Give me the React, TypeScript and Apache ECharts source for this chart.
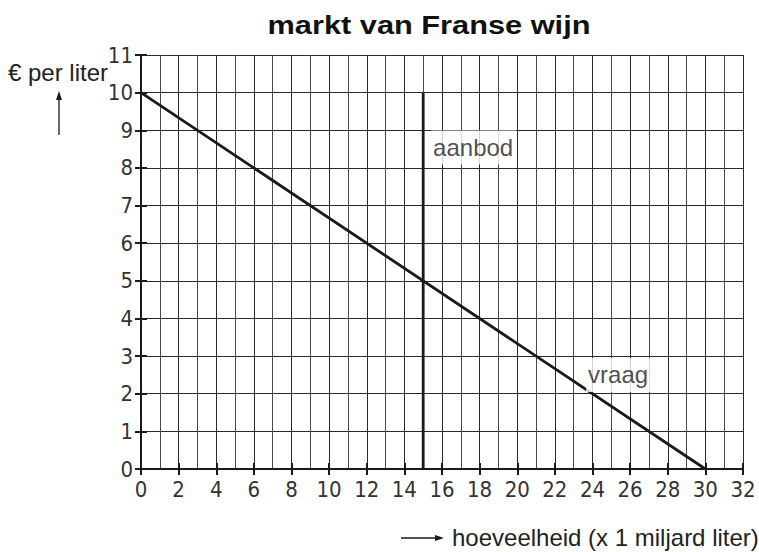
import React, { useEffect, useRef } from "react";
import * as echarts from "echarts";

const demandPoints: [number, number][] = [[0, 10], [30, 0]];
const supplyPoints: [number, number][] = [[15, 0], [15, 10]];
const xRange = [0, 32];
const yRange = [0, 11];
const annotations = [
  { name: "aanbod", value: [15.42, 8.54] },
  { name: "vraag", value: [23.66, 2.5] },
];
const titleText = "markt van Franse wijn";
const yAxisTitle = "€ per liter";
const xAxisTitle = "hoeveelheid (x 1 miljard liter)";

const NARROW = "'Liberation Sans Narrow', 'DejaVu Sans Condensed', 'Arial Narrow', sans-serif";
const SANS = "'Liberation Sans', Arial, sans-serif";
const INK = "#1a1a1a";
const GRID = "#2a2a2a";

export default function App() {
  const ref = useRef<HTMLDivElement>(null);
  useEffect(() => {
    if (!ref.current) return;
    const chart = echarts.init(ref.current, undefined, { renderer: "svg" });
    const xBase = {
      type: "value" as const,
      min: xRange[0],
      max: xRange[1],
      interval: 2,
      position: "bottom" as const,
      axisLine: { show: true, lineStyle: { color: INK, width: 2 } },
    };
    const yBase = {
      type: "value" as const,
      min: yRange[0],
      max: yRange[1],
      interval: 1,
      position: "left" as const,
      axisLine: { show: true, lineStyle: { color: INK, width: 2 } },
    };
    chart.setOption({
      animation: false,
      backgroundColor: "#fff",
      grid: { left: 141, right: 16, top: 55, bottom: 83, containLabel: false },
      xAxis: [
        {
          ...xBase,
          axisTick: { show: true, length: 6, inside: false, lineStyle: { color: INK, width: 2 } },
          axisLabel: {
            show: true,
            margin: 9,
            fontFamily: NARROW,
            fontSize: 22,
            color: "#333",
          },
          splitLine: { show: true, lineStyle: { color: GRID, width: 1 } },
          minorTick: { show: false, splitNumber: 2 },
          minorSplitLine: { show: true, lineStyle: { color: "#4a4a4a", width: 1 } },
        },
        {
          ...xBase,
          axisTick: { show: true, length: 6, inside: true, lineStyle: { color: INK, width: 2 } },
          axisLabel: { show: false },
          splitLine: { show: false },
        },
      ],
      yAxis: [
        {
          ...yBase,
          axisTick: { show: true, length: 6, inside: false, lineStyle: { color: INK, width: 2 } },
          axisLabel: {
            show: true,
            margin: 8,
            fontFamily: NARROW,
            fontSize: 22,
            color: "#333",
          },
          splitLine: { show: true, lineStyle: { color: GRID, width: 1 } },
        },
        {
          ...yBase,
          axisTick: { show: true, length: 6, inside: true, lineStyle: { color: INK, width: 2 } },
          axisLabel: { show: false },
          splitLine: { show: false },
        },
      ],
      series: [
        {
          type: "line",
          name: "vraag",
          data: demandPoints,
          symbol: "none",
          lineStyle: { color: INK, width: 2.8 },
          z: 5,
        },
        {
          type: "line",
          name: "aanbod",
          data: supplyPoints,
          symbol: "none",
          lineStyle: { color: INK, width: 2.8 },
          z: 5,
        },
        {
          type: "scatter",
          data: annotations,
          symbolSize: 0,
          z: 6,
          label: {
            show: true,
            position: "right",
            distance: 0,
            formatter: (p: any) => p.name,
            fontFamily: SANS,
            fontSize: 24,
            color: "#222",
            backgroundColor: "#fff",
            padding: [5, 3, 5, 2],
          },
        },
      ],
      graphic: [
        {
          type: "text",
          x: 429,
          y: 26,
          scaleX: 1.23,
          style: {
            text: titleText,
            font: `bold 25px ${SANS}`,
            fill: "#111",
            align: "center",
            verticalAlign: "middle",
          },
        },
        {
          type: "text",
          x: 8,
          y: 72,
          style: {
            text: yAxisTitle,
            font: `24px ${SANS}`,
            fill: "#222",
            align: "left",
            verticalAlign: "middle",
          },
        },
        {
          type: "line",
          shape: { x1: 59, y1: 135, x2: 59, y2: 98 },
          style: { stroke: INK, lineWidth: 1.3 },
        },
        {
          type: "polygon",
          shape: { points: [[59, 91], [56, 100], [62, 100]] },
          style: { fill: INK },
        },
        {
          type: "line",
          shape: { x1: 401, y1: 538, x2: 436, y2: 538 },
          style: { stroke: INK, lineWidth: 1.3 },
        },
        {
          type: "polygon",
          shape: { points: [[444, 538], [435, 535], [435, 541]] },
          style: { fill: INK },
        },
        {
          type: "text",
          x: 452,
          y: 537,
          style: {
            text: xAxisTitle,
            font: `24px ${SANS}`,
            fill: "#222",
            align: "left",
            verticalAlign: "middle",
          },
        },
      ],
    });
    return () => chart.dispose();
  }, []);
  return <div ref={ref} style={{ width: 759, height: 552, position: "absolute", left: 0, top: 0 }} />;
}
